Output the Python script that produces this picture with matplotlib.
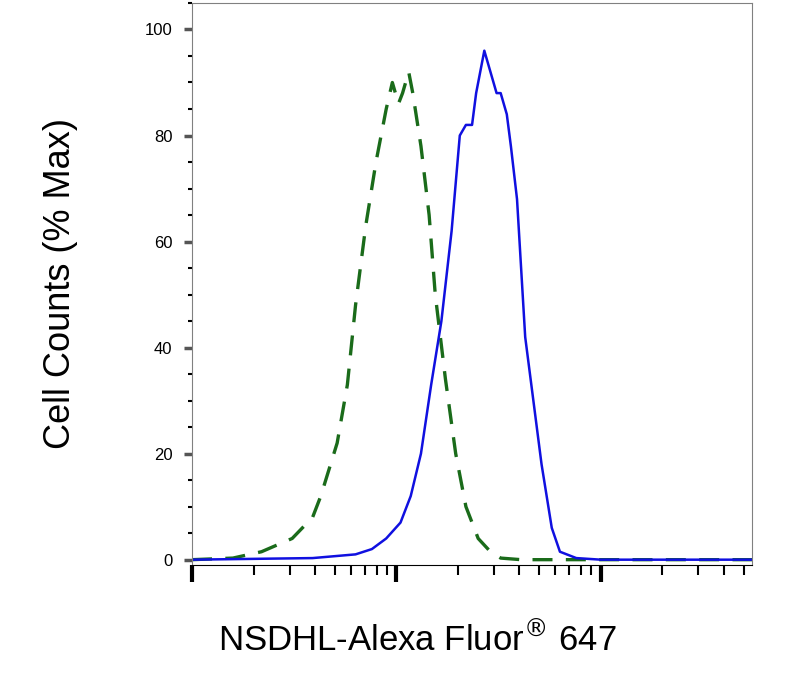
import numpy as np
import matplotlib
matplotlib.use("Agg")
import matplotlib.pyplot as plt
from matplotlib.ticker import LogLocator, NullFormatter, MultipleLocator

plt.rcParams['font.family'] = ['Liberation Sans', 'DejaVu Sans']

# log10 fluorescence positions (decades) and % max
blue_x = [0.0, 0.59, 0.8, 0.88, 0.95, 1.02, 1.07, 1.12, 1.17, 1.22, 1.27, 1.31, 1.34, 1.37, 1.39, 1.42, 1.43, 1.46, 1.49, 1.51, 1.54, 1.56, 1.59, 1.61, 1.63, 1.66, 1.71, 1.76, 1.80, 1.88, 2.0, 2.74]
blue_y = [0.0, 0.3, 1.0, 2.0, 4.0, 7.0, 12, 20, 33, 45, 62, 80, 82, 82, 88, 94, 96, 92, 88, 88, 84, 78, 68, 55, 42, 33, 18, 6, 1.5, 0.3, 0.0, 0.0]
green_x = [0.0, 0.2, 0.34, 0.49, 0.59, 0.63, 0.71, 0.76, 0.80, 0.85, 0.90, 0.95, 0.98, 1.01, 1.03, 1.06, 1.08, 1.12, 1.16, 1.19, 1.24, 1.29, 1.34, 1.40, 1.46, 1.51, 1.61, 2.74]
green_y = [0.0, 0.3, 1.5, 4.0, 8.0, 12, 22, 33, 48, 63, 75, 85, 90, 86, 88, 92, 88, 78, 65, 50, 34, 20, 10, 4, 1.5, 0.3, 0.0, 0.0]

fig = plt.figure(figsize=(7.88, 6.75), dpi=100)
ax = fig.add_axes([0.2437, 0.163, 0.7107, 0.8326])
ax.plot(10 ** np.array(green_x), green_y, color='#1a6b1a', lw=2.4, ls=(0, (6, 4)))
ax.plot(10 ** np.array(blue_x), blue_y, color='#1010e0', lw=1.8)
ax.set_xscale('log')
ax.set_xlim(1, 10 ** 2.74)
ax.set_ylim(-1, 105)
ax.xaxis.set_major_locator(LogLocator(base=10))
ax.xaxis.set_minor_locator(LogLocator(base=10, subs=np.arange(2, 10)))
ax.xaxis.set_major_formatter(NullFormatter())
ax.xaxis.set_minor_formatter(NullFormatter())
ax.yaxis.set_major_locator(MultipleLocator(20))
ax.yaxis.set_minor_locator(MultipleLocator(5))
ax.tick_params(axis='x', which='major', length=12, width=3, color='black')
ax.tick_params(axis='x', which='minor', length=7, width=1.5, color='black')
ax.tick_params(axis='y', which='major', length=6, width=2.5, color='#555555', labelsize=12, pad=8)
ax.tick_params(axis='y', which='minor', length=3, width=1.5, color='black')
for s in ax.spines.values():
    s.set_color('#808080')
ax.spines['bottom'].set_color('black')
ax.set_ylabel('Cell Counts (% Max)', fontsize=26, labelpad=48)
fig.text(0.53, 0.035, 'NSDHL-Alexa Fluor$^{®}$ 647', fontsize=25, ha='center')
fig.savefig('out.png', dpi=100)
